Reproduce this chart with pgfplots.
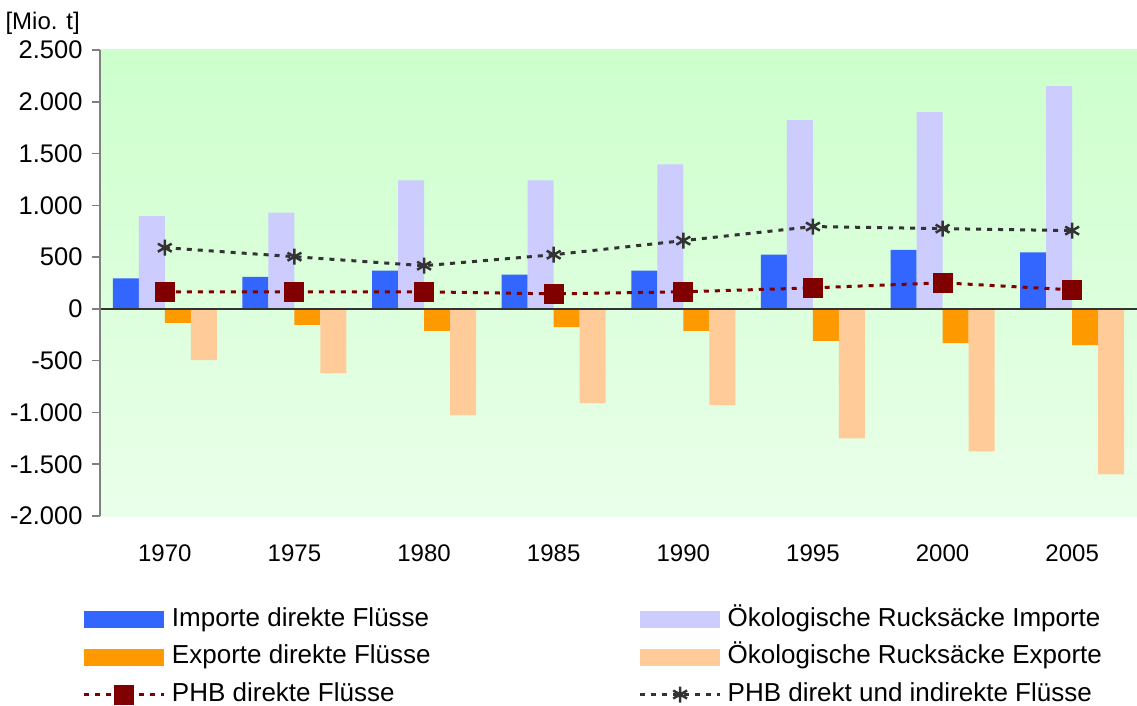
\documentclass[border=0pt]{standalone}
\usepackage{pgfplots}
\pgfplotsset{compat=1.18}
\usepackage{fontspec}
\setmainfont{Liberation Sans}
\definecolor{cblue}{HTML}{3366FF}
\definecolor{clav}{HTML}{CCCCFF}
\definecolor{corange}{HTML}{FF9900}
\definecolor{cpeach}{HTML}{FFCC99}
\definecolor{cred}{HTML}{800000}
\definecolor{cdark}{HTML}{333333}
\definecolor{bgtop}{HTML}{CCFFCC}
\definecolor{bgbot}{HTML}{EAFFEA}
\begin{document}
\begin{tikzpicture}
\useasboundingbox (-100pt,-190pt) rectangle (1037pt,516pt);
\begin{axis}[
  scale only axis, width=1037pt, height=466pt,
  xmin=-0.5, xmax=7.5, ymin=-2000, ymax=2500,
  xtick={0,1,2,3,4,5,6,7},
  xticklabels={1970,1975,1980,1985,1990,1995,2000,2005},
  ytick={-2000,-1500,-1000,-500,0,500,1000,1500,2000,2500},
  yticklabels={-2.000,-1.500,-1.000,-500,0,500,1.000,1.500,2.000,2.500},
  ytick pos=left, xtick style={draw=none},
  ytick style={gray, line width=1.5pt},
  major tick length=8pt, tick align=outside,
  axis line style={draw=none},
  xticklabel style={font=\fontsize{24}{28}\selectfont, yshift=-17pt},
  yticklabel style={font=\fontsize{25.5}{30}\selectfont, xshift=-6pt},
  axis background/.style={top color=bgtop, bottom color=bgbot},
  ybar, bar width=26pt,
  clip=false,
  legend columns=2, legend cell align=left,
  legend style={at={(0,0)}, anchor=north west, xshift=-17pt, yshift=-90pt,
    draw=none, fill=none, inner sep=0pt, outer sep=0pt,
    font=\fontsize{26}{31}\selectfont,
    nodes={inner sep=1pt, text height=19pt, text depth=6pt},
    row sep=10.5pt,
    /tikz/every odd column/.append style={column sep=5pt},
    /tikz/every even column/.append style={column sep=207pt}},
  myarea/.style={legend image code/.code={\fill[##1] (0pt,-8.5pt) rectangle (80pt,8.5pt);}},
  myline/.style={legend image code/.code={\draw[##1, mark repeat=2, mark phase=2] plot coordinates {(0pt,0pt) (40pt,0pt) (80pt,0pt)};}},
]
\addplot[fill=cblue, draw=none, bar shift=-39pt, myarea] coordinates {(0,295) (1,310) (2,370) (3,330) (4,370) (5,523) (6,570) (7,545)};
\addlegendentry{Importe direkte Flüsse}
\addplot[fill=clav, draw=none, bar shift=-13pt, myarea] coordinates {(0,895) (1,930) (2,1240) (3,1240) (4,1395) (5,1822) (6,1900) (7,2151)};
\addlegendentry{Ökologische Rucksäcke Importe}
\addplot[fill=corange, draw=none, bar shift=13pt, myarea] coordinates {(0,-136) (1,-155) (2,-213) (3,-175) (4,-213) (5,-310) (6,-330) (7,-349)};
\addlegendentry{Exporte direkte Flüsse}
\addplot[fill=cpeach, draw=none, bar shift=39pt, myarea] coordinates {(0,-494) (1,-620) (2,-1027) (3,-911) (4,-930) (5,-1250) (6,-1376) (7,-1599)};
\addlegendentry{Ökologische Rucksäcke Exporte}
\draw[cdark, line width=1.5pt] (axis cs:-0.5,0) -- (axis cs:7.5,0);
\addplot[sharp plot, cred, line width=3pt, dash pattern=on 5pt off 6pt, mark=square*, mark size=9.5pt, mark options={solid, fill=cred, draw=cred, line width=0pt}, myline] coordinates {(0,165) (1,165) (2,165) (3,145) (4,165) (5,203) (6,252) (7,184)};
\addlegendentry{PHB direkte Flüsse}
\addplot[sharp plot, cdark, line width=3pt, dash pattern=on 5pt off 6pt, mark=asterisk, mark size=8pt, mark options={solid, draw=cdark, line width=2.5pt}, myline] coordinates {(0,591) (1,504) (2,417) (3,523) (4,659) (5,795) (6,775) (7,756)};
\addlegendentry{PHB direkt und indirekte Flüsse}
\draw[gray, line width=2pt] (rel axis cs:0,0) -- (rel axis cs:0,1);
\node[anchor=base east, inner sep=0pt, font=\fontsize{24}{28}\selectfont, xshift=-20pt, yshift=20pt] at (rel axis cs:0,1) {[Mio. t]};
\end{axis}
\end{tikzpicture}
\end{document}
